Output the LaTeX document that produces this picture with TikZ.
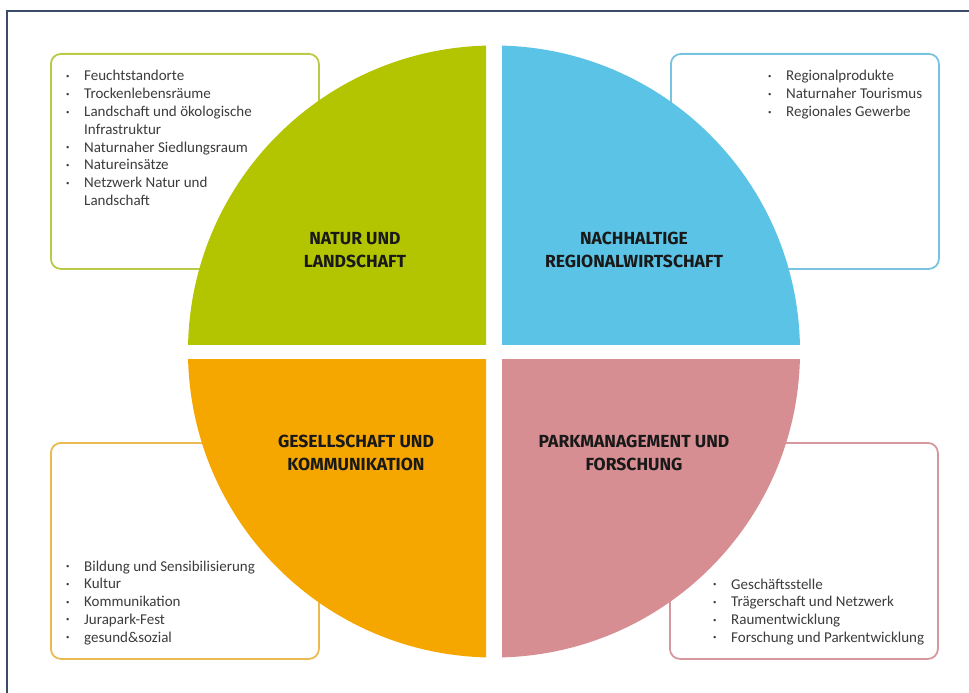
\documentclass[tikz,border=0pt]{standalone}
\usepackage{fontspec}
\setmainfont{Carlito}
\newfontfamily\labelfont{Fira Sans}
\definecolor{cgreen}{RGB}{179,196,0}
\definecolor{cblue}{RGB}{91,196,230}
\definecolor{corange}{RGB}{245,167,0}
\definecolor{cpink}{RGB}{214,142,146}
\definecolor{bgreen}{RGB}{186,201,70}
\definecolor{bblue}{RGB}{120,196,224}
\definecolor{borange}{RGB}{235,187,82}
\definecolor{bpink}{RGB}{214,152,158}
\definecolor{framecol}{RGB}{61,75,106}
\definecolor{itemcol}{RGB}{60,60,60}
\definecolor{labcol}{RGB}{25,25,25}
\newcommand\bul{\raisebox{0.35ex}{\scalebox{0.45}{\textbullet}}}
\newcommand\bl{\makebox[18pt][l]{\bul}}
\begin{document}
\begin{tikzpicture}[x=1pt,y=-1pt,
  itembox/.style={draw, line width=1.8pt, rounded corners=10pt, fill=white,
    minimum width=268pt, minimum height=215pt, anchor=north west, inner sep=0pt},
  itemtext/.style={anchor=base west, inner sep=0pt, text=itemcol,
    font=\fontsize{15}{17.8}\selectfont},
  quadlabel/.style={align=center, text=labcol, inner sep=0pt,
    font=\labelfont\bfseries\fontsize{17.5}{23.5}\selectfont}]
\useasboundingbox (0,0) rectangle (969,693);
\begin{scope}
  \clip (0,0) rectangle (969,693);
  \draw[framecol, line width=1.5pt] (7,11) rectangle (985,710);
\end{scope}
% item boxes
\node[itembox, draw=bgreen] (boxNL) at (50,53) {};
\node[itembox, draw=bblue] (boxNR) at (670,53) {};
\node[itembox, draw=borange, minimum height=216pt] (boxGK) at (50,442) {};
\node[itembox, draw=bpink, minimum height=216pt] (boxPF) at (669,442) {};
% circle quadrants
\coordinate (ctr) at (494,351.5);
\begin{scope}
  \clip (0,0) rectangle (486,344);
  \fill[cgreen] (ctr) circle[radius=306pt];
\end{scope}
\begin{scope}
  \clip (502,0) rectangle (969,344);
  \fill[cblue] (ctr) circle[radius=306pt];
\end{scope}
\begin{scope}
  \clip (0,359) rectangle (486,693);
  \fill[corange] (ctr) circle[radius=306pt];
\end{scope}
\begin{scope}
  \clip (502,359) rectangle (969,693);
  \fill[cpink] (ctr) circle[radius=306pt];
\end{scope}
% quadrant labels
\node[quadlabel] (lNL) at (355,250) {NATUR UND\\LANDSCHAFT};
\node[quadlabel] (lNR) at (634,250) {NACHHALTIGE\\REGIONALWIRTSCHAFT};
\node[quadlabel] (lGK) at (356,453) {GESELLSCHAFT UND\\KOMMUNIKATION};
\node[quadlabel] (lPF) at (634,453) {PARKMANAGEMENT UND\\FORSCHUNG};
% item lists
\node[itemtext] (iNL) at (66,81) {\begin{tabular}[t]{@{}l@{}l@{}}
\bl & Feuchtstandorte\\
\bl & Trockenlebensräume\\
\bl & Landschaft und ökologische\\
    & Infrastruktur\\
\bl & Naturnaher Siedlungsraum\\
\bl & Natureinsätze\\
\bl & Netzwerk Natur und\\
    & Landschaft
\end{tabular}};
\node[itemtext] (iNR) at (768,81) {\begin{tabular}[t]{@{}l@{}l@{}}
\bl & Regionalprodukte\\
\bl & Naturnaher Tourismus\\
\bl & Regionales Gewerbe
\end{tabular}};
\node[itemtext] (iGK) at (66,571) {\begin{tabular}[t]{@{}l@{}l@{}}
\bl & Bildung und Sensibilisierung\\
\bl & Kultur\\
\bl & Kommunikation\\
\bl & Jurapark-Fest\\
\bl & gesund\&sozial
\end{tabular}};
\node[itemtext] (iPF) at (713,589) {\begin{tabular}[t]{@{}l@{}l@{}}
\bl & Geschäftsstelle\\
\bl & Trägerschaft und Netzwerk\\
\bl & Raumentwicklung\\
\bl & Forschung und Parkentwicklung
\end{tabular}};
\end{tikzpicture}
\end{document}
